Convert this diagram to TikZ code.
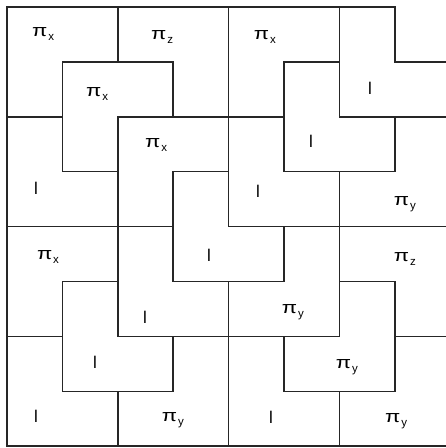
\documentclass[tikz,border=0pt]{standalone}
\usepackage{fontspec}
\setmainfont{Liberation Sans}
\usepackage{graphicx}
\newcommand\pilab[1]{\scalebox{1.3}[1]{π}\hspace{1pt}\raisebox{-0.45ex}{\fontsize{11.5}{11.5}\selectfont #1}}
\begin{document}
\begin{tikzpicture}[x=55.4pt,y=-54.9pt,
  tile/.style={draw=black!85,line width=1.5pt,line join=miter},
  lab/.style={font=\fontsize{17}{17}\selectfont,inner sep=0pt}]
\useasboundingbox (-0.1264,-0.1275) rectangle (7.924,8.033);
\begin{scope}
\clip (-0.1264,-0.1275) rectangle (7.924,8.033);
% trominoes
\draw[tile] (0,0)--(2,0)--(2,1)--(1,1)--(1,2)--(0,2)--cycle;
\draw[tile] (2,0)--(4,0)--(4,2)--(3,2)--(3,1)--(2,1)--cycle;
\draw[tile] (1,1)--(3,1)--(3,2)--(2,2)--(2,3)--(1,3)--cycle;
\draw[tile] (2,2)--(4,2)--(4,3)--(3,3)--(3,4)--(2,4)--cycle;
\draw[tile] (4,0)--(6,0)--(6,1)--(5,1)--(5,2)--(4,2)--cycle;
\draw[tile] (6,0)--(7,0)--(7,1)--(8,1)--(8,2)--(6,2)--cycle;
\draw[tile] (5,1)--(6,1)--(6,2)--(7,2)--(7,3)--(5,3)--cycle;
\draw[tile] (4,2)--(5,2)--(5,3)--(6,3)--(6,4)--(4,4)--cycle;
\draw[tile] (7,2)--(8,2)--(8,4)--(6,4)--(6,3)--(7,3)--cycle;
\draw[tile] (0,2)--(1,2)--(1,3)--(2,3)--(2,4)--(0,4)--cycle;
\draw[tile] (0,4)--(2,4)--(2,5)--(1,5)--(1,6)--(0,6)--cycle;
\draw[tile] (3,3)--(4,3)--(4,4)--(5,4)--(5,5)--(3,5)--cycle;
\draw[tile] (2,4)--(3,4)--(3,5)--(4,5)--(4,6)--(2,6)--cycle;
\draw[tile] (1,5)--(2,5)--(2,6)--(3,6)--(3,7)--(1,7)--cycle;
\draw[tile] (0,6)--(1,6)--(1,7)--(2,7)--(2,8)--(0,8)--cycle;
\draw[tile] (3,6)--(4,6)--(4,8)--(2,8)--(2,7)--(3,7)--cycle;
\draw[tile] (6,4)--(8,4)--(8,6)--(7,6)--(7,5)--(6,5)--cycle;
\draw[tile] (5,4)--(6,4)--(6,6)--(4,6)--(4,5)--(5,5)--cycle;
\draw[tile] (6,5)--(7,5)--(7,7)--(5,7)--(5,6)--(6,6)--cycle;
\draw[tile] (4,6)--(5,6)--(5,7)--(6,7)--(6,8)--(4,8)--cycle;
\draw[tile] (7,6)--(8,6)--(8,8)--(6,8)--(6,7)--(7,7)--cycle;
\end{scope}
% labels
\node[lab] (t1)  at (0.650,0.492) {\pilab{x}};
\node[lab] (t2)  at (2.798,0.546) {\pilab{z}};
\node[lab] (t3)  at (1.625,1.585) {\pilab{x}};
\node[lab] (t4)  at (2.690,2.514) {\pilab{x}};
\node[lab] (t5)  at (4.657,0.546) {\pilab{x}};
\node[lab] (t6)  at (6.552,1.475) {l};
\node[lab] (t7)  at (5.487,2.441) {l};
\node[lab] (t8)  at (4.531,3.352) {l};
\node[lab] (t9)  at (7.184,3.588) {\pilab{y}};
\node[lab] (t10) at (0.523,3.297) {l};
\node[lab] (t11) at (0.740,4.554) {\pilab{x}};
\node[lab] (t12) at (3.646,4.517) {l};
\node[lab] (t13) at (2.491,5.647) {l};
\node[lab] (t14) at (1.588,6.466) {l};
\node[lab] (t15) at (0.523,7.450) {l};
\node[lab] (t16) at (2.996,7.523) {\pilab{y}};
\node[lab] (t17) at (7.184,4.590) {\pilab{z}};
\node[lab] (t18) at (5.162,5.556) {\pilab{y}};
\node[lab] (t19) at (6.137,6.557) {\pilab{y}};
\node[lab] (t20) at (4.765,7.468) {l};
\node[lab] (t21) at (7.022,7.541) {\pilab{y}};
\end{tikzpicture}
\end{document}
